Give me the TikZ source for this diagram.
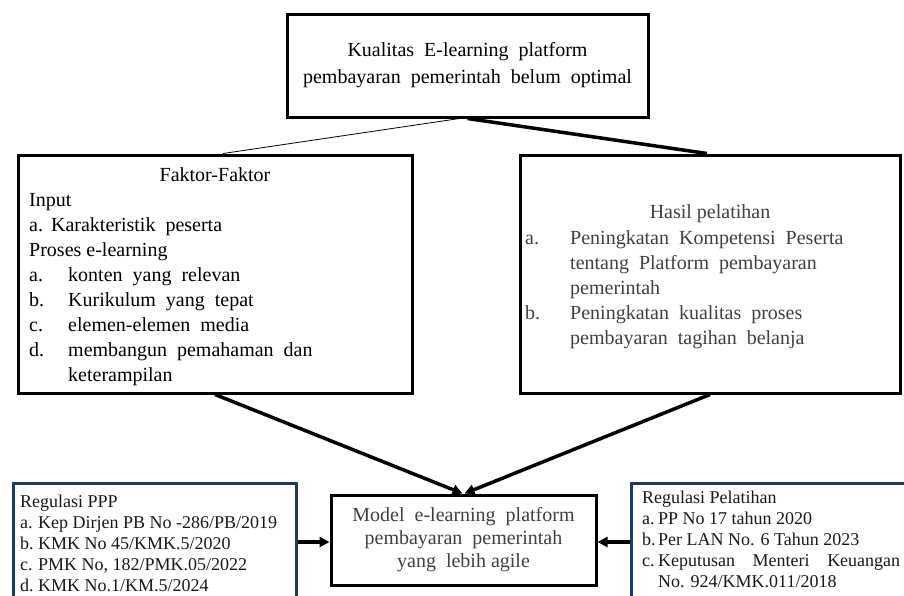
\documentclass[tikz,border=0pt]{standalone}
\usepackage{fontspec}
\setmainfont{Liberation Serif}
\usetikzlibrary{arrows.meta}
\definecolor{navy}{HTML}{1F3864}
\definecolor{txtgray}{HTML}{404040}
\newcommand\fbig{\fontsize{20}{25}\selectfont}
\newcommand\fmid{\fontsize{20}{23}\selectfont}
\newcommand\fsmall{\fontsize{18}{21.2}\selectfont}
\begin{document}
\begin{tikzpicture}[x=1pt,y=-1pt,
  box/.style={draw=black,line width=3pt,inner sep=0pt},
  regbox/.style={draw=navy,line width=2.5pt},
  txt/.style={inner sep=0pt,font=\fbig},
  smalltxt/.style={inner sep=0pt,font=\fsmall,text=black!90},
  thinline/.style={line width=0.8pt},
  heavy/.style={line width=3.5pt},
  arr/.style={heavy,-{Triangle[length=10pt,width=10pt]}}
]
\useasboundingbox (0,0) rectangle (904,595);
\clip (0,0) rectangle (904,595);

% top box
\node[box,minimum width=361pt,minimum height=103pt,align=center,font=\fontsize{20}{27}\selectfont] (top) at (467.5,65.5)
  {Kualitas\ \ E-learning\ \ platform\\pembayaran\ \ pemerintah\ \ belum\ \ optimal};

% left box
\node[box,minimum width=394pt,minimum height=238pt] (fak) at (215,274) {};
\node[txt,anchor=base] (faktitle) at (215,181) {Faktor-Faktor};
\node[txt,anchor=base west] (faklist) at (29,206) {%
\begin{tabular}[t]{@{}p{39pt}@{}l@{}}
\multicolumn{2}{@{}l@{}}{Input}\\
\multicolumn{2}{@{}l@{}}{a.\hspace{8pt}Karakteristik\ \ peserta}\\
\multicolumn{2}{@{}l@{}}{Proses e-learning}\\
a. & konten\ \ yang\ \ relevan\\
b. & Kurikulum\ \ yang\ \ tepat\\
c. & elemen-elemen\ \ media\\
d. & membangun\ \ pemahaman\ \ dan\\
   & keterampilan
\end{tabular}};

% right box
\node[box,minimum width=380pt,minimum height=238pt] (hasil) at (710,274) {};
\node[txt,anchor=base,text=txtgray] (hasiltitle) at (710,218) {Hasil pelatihan};
\node[txt,anchor=base west,text=txtgray] (hasillist) at (525,244) {%
\begin{tabular}[t]{@{}p{45pt}@{}l@{}}
a. & Peningkatan\ \ Kompetensi\ \ Peserta\\
   & tentang\ \ Platform\ \ pembayaran\\
   & pemerintah\\
b. & Peningkatan\ \ kualitas\ \ proses\\
   & pembayaran\ \ tagihan\ \ belanja
\end{tabular}};

% model box
\node[box,minimum width=265pt,minimum height=90pt,align=center,font=\fmid,text=txtgray] (model) at (463.5,540)
  {Model\ \ e-learning\ \ platform\\pembayaran\ \ pemerintah\\yang\ \ lebih agile};

% regulation boxes
\node[regbox,minimum width=283pt,minimum height=140pt,anchor=north west] (lreg) at (12,482) {};
\node[smalltxt,anchor=base west] (lregtxt) at (20,507) {%
\begin{tabular}[t]{@{}p{18pt}@{}l@{}}
\multicolumn{2}{@{}l@{}}{Regulasi PPP}\\
a. & Kep Dirjen PB No -286/PB/2019\\
b. & KMK No 45/KMK.5/2020\\
c. & PMK No, 182/PMK.05/2022\\
d. & KMK No.1/KM.5/2024
\end{tabular}};

\node[regbox,minimum width=320pt,minimum height=140pt,anchor=north west] (rreg) at (630,482) {};
\node[smalltxt,anchor=base west] (rregtxt) at (642,503) {%
\begin{tabular}[t]{@{}p{16pt}@{}l@{}}
\multicolumn{2}{@{}l@{}}{Regulasi Pelatihan}\\
a. & PP No 17 tahun 2020\\
b. & Per LAN No. 6 Tahun 2023\\
c. & \makebox[242pt][s]{Keputusan Menteri Keuangan}\\
   & No. 924/KMK.011/2018
\end{tabular}};

% connectors
\draw[thinline] ([xshift=-8pt]top.south) -- ([xshift=8pt]fak.north);
\draw[heavy] (top.south) -- ([xshift=-3pt]hasil.north);
\draw[arr] (fak.south) -- ([xshift=-1pt]model.north);
\draw[arr] (hasil.south) -- ([xshift=1pt]model.north);
\draw[arr] (lreg.east |- model.west) ++(0,2) -- ([yshift=-2pt]model.west);
\draw[arr] (rreg.west |- model.east) ++(0,2) -- ([yshift=-2pt]model.east);
\end{tikzpicture}
\end{document}
